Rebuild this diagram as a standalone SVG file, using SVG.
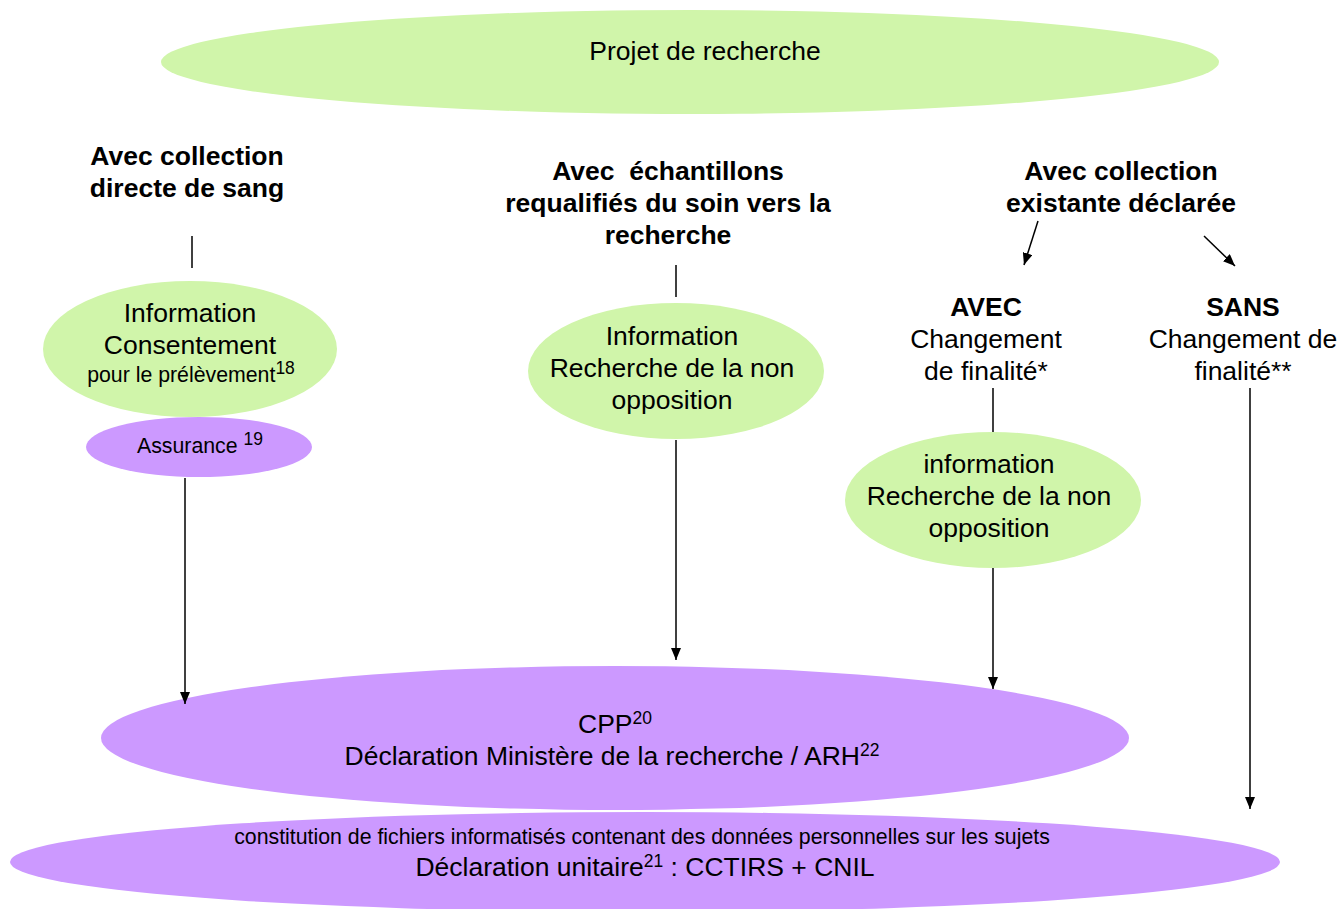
<svg xmlns="http://www.w3.org/2000/svg" width="1339" height="909" viewBox="0 0 1339 909">
  <style>
    .t { font-family: "Liberation Sans", Arial, sans-serif; fill: #000; text-anchor: middle; }
    .m { font-size: 26.5px; }
    .s { font-size: 21.3px; }
    .b { font-size: 26.5px; font-weight: bold; }
    .sup { font-size: 17.5px; }
    .green { fill: #d0f5aa; }
    .purple { fill: #cc99ff; }
    .ln { stroke: #000; stroke-width: 1.5; fill: none; }
  </style>
  <defs>
    <marker id="arr" viewBox="0 0 12 10" refX="12" refY="5" markerWidth="12" markerHeight="10" markerUnits="userSpaceOnUse" orient="auto">
      <path d="M0,0 L12,5 L0,10 z" fill="#000"/>
    </marker>
  </defs>
  <rect width="1339" height="909" fill="#fff"/>

  <!-- top-level project -->
  <g id="projet">
    <ellipse class="green" cx="690" cy="62" rx="529" ry="52"/>
    <text class="t m" x="705" y="60">Projet de recherche</text>
  </g>

  <!-- column headers -->
  <g id="hdr-sang">
    <text class="t b" x="187" y="165">Avec collection</text>
    <text class="t b" x="187" y="197">directe de sang</text>
  </g>
  <g id="hdr-echantillons">
    <text class="t b" x="668" y="180" xml:space="preserve">Avec  échantillons</text>
    <text class="t b" x="668" y="212">requalifiés du soin vers la</text>
    <text class="t b" x="668" y="244">recherche</text>
  </g>
  <g id="hdr-existante">
    <text class="t b" x="1121" y="180">Avec collection</text>
    <text class="t b" x="1121" y="212">existante déclarée</text>
  </g>
  <g id="avec">
    <text class="t b" x="986" y="316">AVEC</text>
    <text class="t m" x="986" y="348">Changement</text>
    <text class="t m" x="986" y="380">de finalité*</text>
  </g>
  <g id="sans">
    <text class="t b" x="1243" y="316">SANS</text>
    <text class="t m" x="1243" y="348">Changement de</text>
    <text class="t m" x="1243" y="380">finalité**</text>
  </g>

  <!-- consent nodes -->
  <g id="consentement">
    <ellipse class="green" cx="190" cy="349" rx="147" ry="68"/>
    <text class="t m" x="190" y="322">Information</text>
    <text class="t m" x="190" y="354">Consentement</text>
    <text class="t s" x="191" y="382">pour le prélèvement<tspan class="sup" dy="-8">18</tspan></text>
  </g>
  <g id="assurance">
    <ellipse class="purple" cx="199" cy="447" rx="113" ry="30"/>
    <text class="t s" x="200" y="453">Assurance <tspan class="sup" dy="-8">19</tspan></text>
  </g>
  <g id="non-opposition-1">
    <ellipse class="green" cx="676" cy="371" rx="148" ry="68"/>
    <text class="t m" x="672" y="345">Information</text>
    <text class="t m" x="672" y="377">Recherche de la non</text>
    <text class="t m" x="672" y="409">opposition</text>
  </g>
  <g id="non-opposition-2">
    <ellipse class="green" cx="993" cy="500" rx="148" ry="68"/>
    <text class="t m" x="989" y="473">information</text>
    <text class="t m" x="989" y="505">Recherche de la non</text>
    <text class="t m" x="989" y="537">opposition</text>
  </g>

  <!-- regulatory nodes -->
  <g id="cpp">
    <ellipse class="purple" cx="615" cy="738" rx="514" ry="72"/>
    <text class="t m" x="615" y="733">CPP<tspan class="sup" dy="-9">20</tspan></text>
    <text class="t m" x="612" y="765">Déclaration Ministère de la recherche / ARH<tspan class="sup" dy="-9">22</tspan></text>
  </g>
  <g id="cnil">
    <ellipse class="purple" cx="645" cy="862" rx="635" ry="50"/>
    <text class="t s" x="642" y="844">constitution de fichiers informatisés contenant des données personnelles sur les sujets</text>
    <text class="t m" x="645" y="876">Déclaration unitaire<tspan class="sup" dy="-9">21</tspan><tspan dy="9"> : CCTIRS + CNIL</tspan></text>
  </g>

  <!-- connectors -->
  <g id="connectors">
    <line class="ln" x1="192" y1="236" x2="192" y2="268"/>
    <line class="ln" x1="676" y1="265" x2="676" y2="297"/>
    <line class="ln" x1="993" y1="388" x2="993" y2="432"/>
    <line class="ln" x1="1038" y1="221" x2="1024" y2="265" marker-end="url(#arr)"/>
    <line class="ln" x1="1204" y1="236" x2="1235" y2="266" marker-end="url(#arr)"/>
    <line class="ln" x1="185" y1="478" x2="185" y2="704" marker-end="url(#arr)"/>
    <line class="ln" x1="676" y1="440" x2="676" y2="660" marker-end="url(#arr)"/>
    <line class="ln" x1="993" y1="568" x2="993" y2="689" marker-end="url(#arr)"/>
    <line class="ln" x1="1250" y1="388" x2="1250" y2="809" marker-end="url(#arr)"/>
  </g>
</svg>
